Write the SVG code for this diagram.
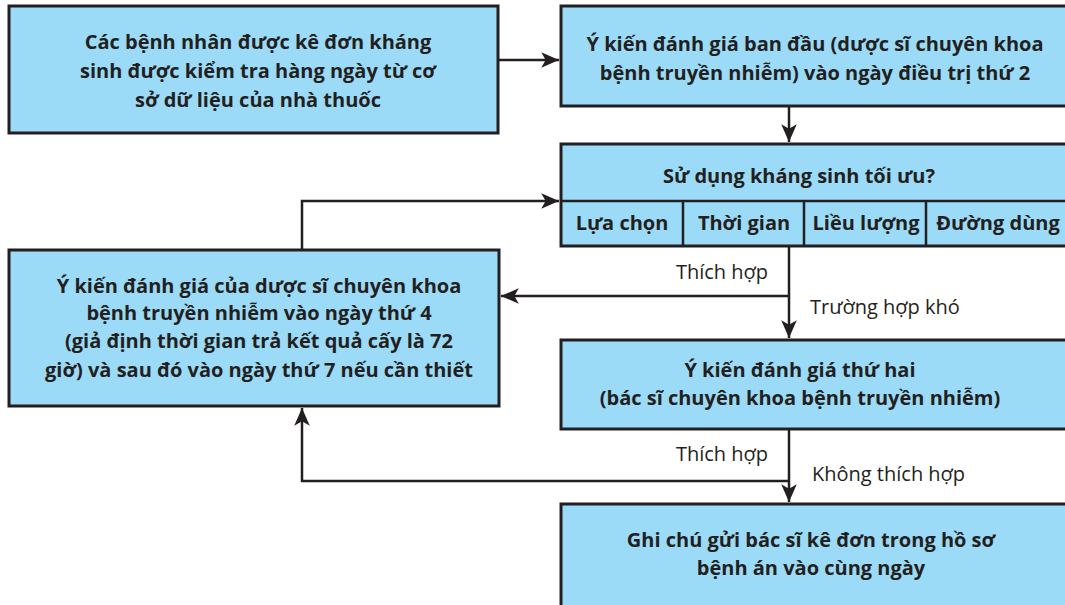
<svg xmlns="http://www.w3.org/2000/svg" width="1065" height="605" viewBox="0 0 1065 605">
<style>
.box{fill:#9bdbf7;stroke:#231f20;stroke-width:3}
.div{stroke:#231f20;stroke-width:2.5;fill:none}
.t{font-family:"Open Sans","Noto Sans",sans-serif;font-weight:700;font-size:20px;fill:#231f20;text-anchor:middle}
.l{font-family:"Open Sans","Noto Sans",sans-serif;font-size:20px;fill:#231f20}
.c{stroke:#231f20;stroke-width:2.5;fill:none}
</style>
<defs>
<marker id="ah" markerUnits="userSpaceOnUse" markerWidth="20" markerHeight="20" viewBox="-16 -8 18 16" refX="0" refY="0" orient="auto">
<path d="M0,0 L-16,-7 L-12,0 L-16,7 Z" fill="#231f20"/>
</marker>
</defs>
<rect width="1065" height="605" fill="#fff"/>
<g id="connectors">
<line class="c" x1="498" y1="60" x2="559" y2="60" marker-end="url(#ah)"/>
<line class="c" x1="789" y1="106" x2="789" y2="142" marker-end="url(#ah)"/>
<path class="c" d="M302,250 V201 H559" marker-end="url(#ah)"/>
<line class="c" x1="789" y1="246" x2="789" y2="338" marker-end="url(#ah)"/>
<line class="c" x1="789" y1="296" x2="501" y2="296" marker-end="url(#ah)"/>
<line class="c" x1="789" y1="429" x2="789" y2="502" marker-end="url(#ah)"/>
<path class="c" d="M789,481 H302 V408" marker-end="url(#ah)"/>
<text class="l" x="768" y="279" text-anchor="end">Thích hợp</text>
<text class="l" x="810" y="314">Trường hợp khó</text>
<text class="l" x="768" y="461" text-anchor="end">Thích hợp</text>
<text class="l" x="812" y="481">Không thích hợp</text>
</g>
<g id="node1">
<rect class="box" x="9" y="6" width="489" height="127"/>
<text class="t" x="258" y="49">Các bệnh nhân được kê đơn kháng</text>
<text class="t" x="258" y="78">sinh được kiểm tra hàng ngày từ cơ</text>
<text class="t" x="258" y="107">sở dữ liệu của nhà thuốc</text>
</g>
<g id="node2">
<rect class="box" x="561" y="6" width="520" height="100"/>
<text class="t" x="815" y="51">Ý kiến đánh giá ban đầu (dược sĩ chuyên khoa</text>
<text class="t" x="815" y="80">bệnh truyền nhiễm) vào ngày điều trị thứ 2</text>
</g>
<g id="node3">
<rect class="box" x="561" y="144" width="520" height="102"/>
<line class="div" x1="561" y1="201" x2="1081" y2="201"/>
<line class="div" x1="683" y1="201" x2="683" y2="246"/>
<line class="div" x1="804" y1="201" x2="804" y2="246"/>
<line class="div" x1="926" y1="201" x2="926" y2="246"/>
<text class="t" x="799" y="183">Sử dụng kháng sinh tối ưu?</text>
<text class="t" x="622" y="230">Lựa chọn</text>
<text class="t" x="744" y="230">Thời gian</text>
<text class="t" x="866" y="230">Liều lượng</text>
<text class="t" x="998" y="230">Đường dùng</text>
</g>
<g id="node4">
<rect class="box" x="9" y="250" width="490" height="156"/>
<text class="t" x="259" y="293">Ý kiến đánh giá của dược sĩ chuyên khoa</text>
<text class="t" x="259" y="320">bệnh truyền nhiễm vào ngày thứ 4</text>
<text class="t" x="259" y="348">(giả định thời gian trả kết quả cấy là 72</text>
<text class="t" x="259" y="377">giờ) và sau đó vào ngày thứ 7 nếu cần thiết</text>
</g>
<g id="node5">
<rect class="box" x="561" y="340" width="520" height="89"/>
<text class="t" x="800" y="377">Ý kiến đánh giá thứ hai</text>
<text class="t" x="800" y="405">(bác sĩ chuyên khoa bệnh truyền nhiễm)</text>
</g>
<g id="node6">
<rect class="box" x="561" y="504" width="520" height="120"/>
<text class="t" x="811" y="547">Ghi chú gửi bác sĩ kê đơn trong hồ sơ</text>
<text class="t" x="811" y="575">bệnh án vào cùng ngày</text>
</g>
</svg>
